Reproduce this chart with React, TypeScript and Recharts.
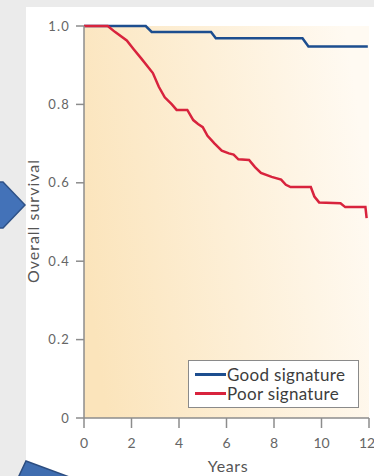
import React from 'react';
import { LineChart, Line, XAxis, YAxis, ReferenceArea } from 'recharts';

// Kaplan-Meier curves (years, overall survival)
const goodYears = [0, 2.6, 2.85, 5.35, 5.55, 9.2, 9.45, 11.95];
const goodSurvival = [1, 1, 0.985, 0.985, 0.969, 0.969, 0.948, 0.948];

const poorYears = [
  0, 1.0, 1.3, 1.8, 2.1, 2.4, 2.9, 3.15, 3.4, 3.7, 3.9, 4.35, 4.6, 4.8, 5.0, 5.2,
  5.5, 5.8, 6.1, 6.3, 6.5, 6.95, 7.2, 7.45, 7.9, 8.3, 8.5, 8.7, 9.55, 9.7, 9.9,
  10.8, 11.0, 11.85, 11.9,
];
const poorSurvival = [
  1, 1, 0.985, 0.963, 0.94, 0.918, 0.88, 0.845, 0.818, 0.8, 0.786, 0.786, 0.76,
  0.75, 0.742, 0.72, 0.7, 0.682, 0.675, 0.672, 0.66, 0.658, 0.64, 0.625, 0.615,
  0.608, 0.595, 0.589, 0.589, 0.565, 0.55, 0.548, 0.538, 0.538, 0.51,
];

const xTicks = [0, 2, 4, 6, 8, 10, 12];
const yTicks = [0, 0.2, 0.4, 0.6, 0.8, 1.0];

const seriesNames = ['Good signature', 'Poor signature'];
const BLUE = '#1d4e8f';
const RED = '#d8233d';
const AXIS = '#8c8c8c';
const FONT = 'Lato, "Open Sans", sans-serif';

const goodData = goodYears.map((t, i) => ({ t, s: goodSurvival[i] }));
const poorData = poorYears.map((t, i) => ({ t, s: poorSurvival[i] }));

const LegendBox = () => (
  <div
    style={{
      position: 'absolute',
      left: 188,
      top: 360,
      width: 171,
      height: 48,
      background: '#fff',
      border: '1px solid #8a8a8a',
      boxSizing: 'border-box',
      padding: '4px 0 0 6px',
      fontFamily: FONT,
      fontSize: 17,
      letterSpacing: 0.3,
      lineHeight: '19px',
      color: '#3d3d3d',
    }}
  >
    {[BLUE, RED].map((c, i) => (
      <div key={i} style={{ display: 'flex', alignItems: 'center', height: 19 }}>
        <span style={{ display: 'inline-block', width: 31, height: 3, background: c, marginRight: 1 }} />
        <span>{seriesNames[i]}</span>
      </div>
    ))}
  </div>
);

export default function App() {
  return (
    <div style={{ position: 'absolute', left: 0, top: 0, width: 374, height: 476, background: '#ebebeb', overflow: 'hidden' }}>
      <div style={{ position: 'absolute', left: 26, top: 7, width: 348, height: 469, background: '#fff' }} />

      <svg width={0} height={0} style={{ position: 'absolute' }}>
        <defs>
          <linearGradient id="plotBg" x1="0" y1="0.6" x2="1" y2="0.4">
            <stop offset="0%" stopColor="#fbe4bb" />
            <stop offset="100%" stopColor="#fffaf2" />
          </linearGradient>
        </defs>
      </svg>

      <div style={{ position: 'absolute', left: 0, top: 0 }}>
        <LineChart width={374} height={476} margin={{ top: 26, right: 5, bottom: 28, left: 44 }}>
          <ReferenceArea x1={0} x2={12} y1={0} y2={1} fill="url(#plotBg)" fillOpacity={1} stroke="none" />
          <XAxis
            type="number"
            dataKey="t"
            domain={[0, 12]}
            ticks={xTicks}
            height={30}
            allowDataOverflow
            tickSize={10}
            tickMargin={10}
            stroke={AXIS}
            strokeWidth={1.5}
            tick={{ fill: '#666', fontSize: 14, fontFamily: FONT }}
          />
          <YAxis
            type="number"
            dataKey="s"
            domain={[0, 1]}
            ticks={yTicks}
            width={40}
            tickSize={8}
            tickMargin={6}
            stroke={AXIS}
            strokeWidth={1.5}
            tickFormatter={(v: number) => (v === 0 ? '0' : v.toFixed(1))}
            tick={{ fill: '#666', fontSize: 13, fontFamily: FONT, letterSpacing: 1.2 }}
          />
          <Line
            data={goodData}
            dataKey="s"
            type="linear"
            stroke={BLUE}
            strokeWidth={2.5}
            dot={false}
            activeDot={false}
            isAnimationActive={false}
          />
          <Line
            data={poorData}
            dataKey="s"
            type="linear"
            stroke={RED}
            strokeWidth={2.5}
            dot={false}
            activeDot={false}
            isAnimationActive={false}
          />
        </LineChart>
      </div>

      <LegendBox />

      <div style={{ position: 'absolute', left: 178, top: 457, width: 100, textAlign: 'center', fontFamily: FONT, fontSize: 16, lineHeight: '17px', letterSpacing: 0.6, color: '#555' }}>
        Years
      </div>
      <div
        style={{
          position: 'absolute',
          left: 32,
          top: 221,
          transform: 'translate(-50%, -50%) rotate(-90deg)',
          whiteSpace: 'nowrap',
          fontFamily: FONT,
          fontSize: 16,
          letterSpacing: 1,
          color: '#555',
        }}
      >
        Overall survival
      </div>

      <svg width={374} height={476} style={{ position: 'absolute', left: 0, top: 0, pointerEvents: 'none' }}>
        <polygon points="-5,182 3,182 25,205 3,228 -5,228" fill="#4372b8" stroke="#2f5288" strokeWidth={1.5} />
        <polygon points="26,461 72,478 18,478" fill="#3f6db0" stroke="#2c4d80" strokeWidth={1.5} />
      </svg>
    </div>
  );
}
